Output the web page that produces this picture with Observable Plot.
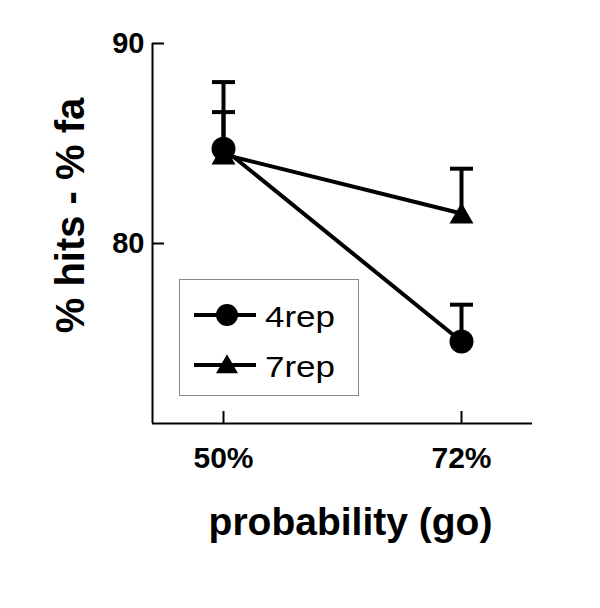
<!DOCTYPE html>
<html><head><meta charset="utf-8">
<script src="https://cdn.jsdelivr.net/npm/d3@7"></script>
<script src="https://cdn.jsdelivr.net/npm/@observablehq/plot@0.6"></script>
<style>
html,body{margin:0;padding:0;background:#fff;}
#wrap{position:relative;width:600px;height:608px;}
#legend{position:absolute;left:179px;top:279px;width:178px;height:115px;border:1px solid #8a8a8a;background:#fff;}
#legend svg{display:block;}
</style></head><body><div id="wrap"></div>
<script>
// ---- data ----
const categories = ["50%", "72%"];
const seriesNames = ["4rep", "7rep"];
const mean4rep = [84.74, 75.1];
const upper4rep = [88.07, 76.94];
const mean7rep = [84.45, 81.5];
const upper7rep = [86.57, 83.74];
const yTicks = [80, 90];
const yDomain = [71, 90];
const xLabel = "probability (go)";
const yLabel = "% hits - % fa";

const font = "'Liberation Sans', Arial, Helvetica, sans-serif";
const W = 600, H = 608, mL = 152, mR = 68, mT = 43, mB = 185;
const pad = 0.2983; // x-domain padding around the two categories
const xDomain = [-pad, categories.length - 1 + pad];
const unitPx = (W - mL - mR) / (xDomain[1] - xDomain[0]);
const cap = 11.5 / unitPx;

const means = {"4rep": mean4rep, "7rep": mean7rep};
const uppers = {"4rep": upper4rep, "7rep": upper7rep};
const rows = [];
for (const s of seriesNames) {
  categories.forEach((c, i) => rows.push({series: s, cat: c, xi: i, mean: means[s][i], upper: uppers[s][i]}));
}

const chart = Plot.plot({
  width: W, height: H,
  marginLeft: mL, marginRight: mR, marginTop: mT, marginBottom: mB,
  style: {fontFamily: font, color: "black", background: "white"},
  x: {type: "linear", domain: xDomain, axis: null},
  y: {domain: yDomain, axis: null},
  marks: [
    Plot.ruleX([xDomain[0]], {strokeWidth: 2}),
    Plot.ruleY([yDomain[0]], {strokeWidth: 2}),
    Plot.axisY(yTicks, {tickSize: 12, dx: 12, fill: "none", label: null, strokeWidth: 2}),
    Plot.axisY(yTicks, {tickSize: 0, tickPadding: 8, fontSize: 29, fontWeight: "bold", label: null}),
    Plot.axisX(categories.map((c, i) => i), {tickSize: 12, dy: -12, fill: "none", label: null, strokeWidth: 2}),
    Plot.axisX(categories.map((c, i) => i), {tickSize: 0, tickPadding: 23, tickFormat: i => categories[i], fontSize: 30, fontWeight: "bold", label: null}),
    Plot.text([yLabel], {frameAnchor: "left", textAnchor: "middle", rotate: -90, dx: -81, dy: -18, fontSize: 40, fontWeight: "bold", lineAnchor: "middle"}),
    Plot.text([xLabel], {frameAnchor: "bottom", textAnchor: "middle", dx: 8, dy: 99, fontSize: 39, fontWeight: "bold", lineAnchor: "middle"}),
    Plot.line(rows, {x: "xi", y: "mean", z: "series", strokeWidth: 4}),
    Plot.ruleX(rows, {x: "xi", y1: "mean", y2: "upper", strokeWidth: 4}),
    Plot.link(rows, {x1: d => d.xi - cap, x2: d => d.xi + cap, y1: "upper", y2: "upper", strokeWidth: 4}),
    Plot.dot(rows.filter(d => d.series === "7rep"), {x: "xi", y: "mean", symbol: "triangle", r: 8.9, fill: "black", dy: 3}),
    Plot.dot(rows.filter(d => d.series === "4rep"), {x: "xi", y: "mean", symbol: "circle", r: 12, fill: "black"})
  ]
});
const wrap = document.getElementById("wrap");
wrap.appendChild(chart);

// ---- legend (inside plot area) ----
const leg = document.createElement("div");
leg.id = "legend";
wrap.appendChild(leg);
const lsvg = d3.select(leg).append("svg").attr("width", 178).attr("height", 115);
const legendRows = [
  {name: seriesNames[0], sym: d3.symbolCircle, size: Math.PI * 11 * 11, ly: 35, ty: 47, dy: 0},
  {name: seriesNames[1], sym: d3.symbolTriangle, size: 209.5, ly: 85, ty: 97, dy: 2}
];
for (const r of legendRows) {
  lsvg.append("line").attr("x1", 14).attr("x2", 76).attr("y1", r.ly).attr("y2", r.ly)
    .attr("stroke", "black").attr("stroke-width", 4);
  lsvg.append("path").attr("d", d3.symbol(r.sym, r.size)())
    .attr("transform", `translate(47,${r.ly + r.dy})`).attr("fill", "black");
  lsvg.append("text").attr("x", 85).attr("y", r.ty).text(r.name)
    .attr("font-family", font).attr("font-size", 29)
    .attr("textLength", 70).attr("lengthAdjust", "spacingAndGlyphs");
}
</script></body></html>
